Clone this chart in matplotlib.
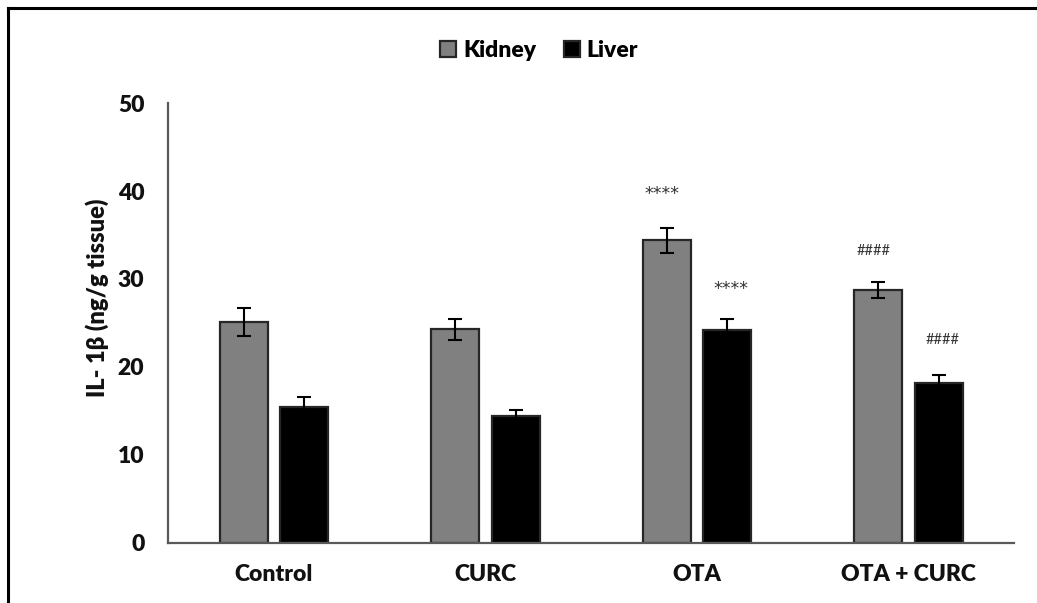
import matplotlib
matplotlib.use("Agg")
import matplotlib.pyplot as plt
import numpy as np
from matplotlib.lines import Line2D
from matplotlib import font_manager as fm

plt.rcParams['font.family'] = ['Lato', 'DejaVu Sans']

categories = ["Control", "CURC", "OTA", "OTA + CURC"]
kidney = [25.1, 24.3, 34.4, 28.7]
kidney_err = [1.6, 1.2, 1.45, 0.9]
liver = [15.4, 14.4, 24.2, 18.2]
liver_err = [1.15, 0.7, 1.3, 0.9]
kidney_marks = ["", "", "****", "####"]
liver_marks = ["", "", "****", "####"]
yticks = [0, 10, 20, 30, 40, 50]

# pick heaviest available Lato weight
weights = [f.weight for f in fm.fontManager.ttflist if f.name == 'Lato']
heavy = 'heavy' if any((w if isinstance(w, int) else 0) >= 800 for w in weights) else 'bold'

fig = plt.figure(figsize=(10.37, 6.03), dpi=100)
ax = fig.add_axes([0.162, 0.1, 0.816, 0.729])

x = np.arange(len(categories))
w = 0.227
off = 0.143
ekw = dict(ecolor='black', elinewidth=1.5, capsize=5, capthick=1.5)
b1 = ax.bar(x - off, kidney, w, color='#808080', edgecolor='#262626', linewidth=1.6,
            yerr=kidney_err, error_kw=ekw, label='Kidney', zorder=2)
b2 = ax.bar(x + off, liver, w, color='black', edgecolor='#262626', linewidth=1.6,
            yerr=liver_err, error_kw=ekw, label='Liver', zorder=2)

# annotation styling: font and gap above error bar (data units)
mark_style = {"****": dict(family='DejaVu Sans', size=12.5),
              "####": dict(family='Lato', size=10.5)}
gap_k = {"****": 3.3, "####": 3.15}
gap_l = {"****": 2.8, "####": 3.55}

for i in range(len(categories)):
    m = kidney_marks[i]
    if m:
        ax.text(x[i] - off - 0.02, kidney[i] + kidney_err[i] + gap_k[m], m,
                ha='center', va='baseline', color='#333333', **mark_style[m])
    m = liver_marks[i]
    if m:
        ax.text(x[i] + off + 0.02, liver[i] + liver_err[i] + gap_l[m], m,
                ha='center', va='baseline', color='#333333', **mark_style[m])

ax.set_xlim(-0.5, 3.5)
ax.set_ylim(0, 50)
ax.set_yticks(yticks)
ax.set_xticks(x)
ax.set_xticklabels(categories, fontsize=16.5, fontweight=heavy, color='#111111')
ax.set_yticklabels([str(t) for t in yticks], fontsize=16.5, fontweight=heavy, color='#111111')
ax.tick_params(axis='y', length=0, pad=17)
ax.tick_params(axis='x', length=0, pad=15)
for s in ['top', 'right']:
    ax.spines[s].set_visible(False)
for s in ['left', 'bottom']:
    ax.spines[s].set_color('#595959')
    ax.spines[s].set_linewidth(1.6)

ax.set_ylabel("IL- 1β (ng/g tissue)", fontsize=17, fontweight=heavy, color='#111111')
ax.yaxis.set_label_coords(-0.070, 0.558)

leg = fig.legend(handles=[b1, b2], labels=['Kidney', 'Liver'], loc='center',
                 bbox_to_anchor=(0.52, 0.917), ncol=2, frameon=False,
                 prop={'weight': heavy, 'size': 16.5},
                 handlelength=0.7, handleheight=0.7, handletextpad=0.3,
                 columnspacing=1.2)

# outer border (left and top)
fig.add_artist(Line2D([8/1037, 8/1037], [0, 1 - 8/603], transform=fig.transFigure,
                      color='black', linewidth=2.2))
fig.add_artist(Line2D([8/1037, 1], [1 - 8/603, 1 - 8/603], transform=fig.transFigure,
                      color='black', linewidth=2.2))

fig.savefig("out.png", dpi=100)
